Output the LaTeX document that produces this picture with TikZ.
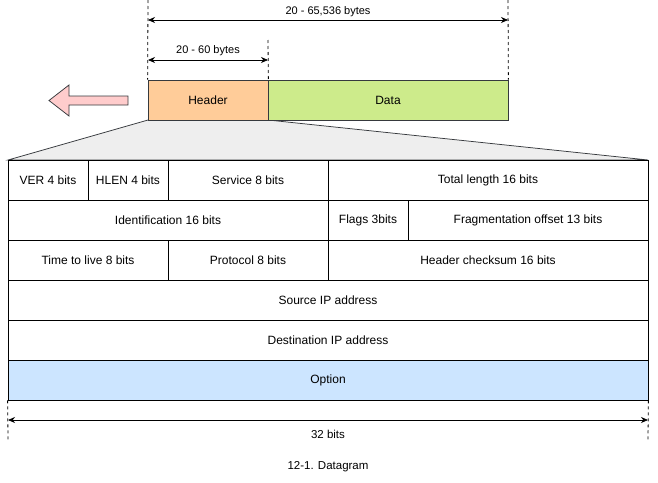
\documentclass[tikz,border=0pt]{standalone}
\usepackage{fontspec}
\setmainfont{Liberation Sans}
\usetikzlibrary{arrows.meta}
\definecolor{linec}{HTML}{36393D}
\definecolor{hdrfill}{HTML}{FFCC99}
\definecolor{datafill}{HTML}{CDEB8B}
\definecolor{pinkfill}{HTML}{FFCCCC}
\definecolor{trapfill}{HTML}{EEEEEE}
\definecolor{optfill}{HTML}{CCE5FF}
\tikzset{
  cell/.style={draw=black, line width=0.75pt, minimum height=40pt, inner sep=0pt, font=\fontsize{12}{14}\selectfont},
  lbl/.style={inner sep=0pt, font=\fontsize{11}{13}\selectfont},
  lbltwelve/.style={inner sep=0pt, font=\fontsize{11.5}{14}\selectfont},
  dim/.style={line width=0.75pt, {Stealth[length=7pt,width=6pt]}-{Stealth[length=7pt,width=6pt]}},
  guide/.style={dash pattern=on 3pt off 3pt, line width=0.8pt},
}
\begin{document}
\begin{tikzpicture}[x=1pt,y=-1pt]
\useasboundingbox (0,0) rectangle (658,482);
% trapezoid
\path[fill=trapfill, draw=linec, line width=0.75pt] (148,120) -- (268,120) -- (648,160) -- (8,160) -- cycle;
% header / data
\node[cell, draw=linec, fill=hdrfill, minimum width=120pt] (hdr) at (208,100) {Header};
\node[cell, draw=linec, fill=datafill, minimum width=240pt] (data) at (388,100) {Data};
% guides
\coordinate (g1) at (148,0);
\coordinate (g2) at (268,40);
\coordinate (g3) at (508,0);
\draw[guide] (g1) -- (hdr.north west);
\draw[guide] (g2) -- (hdr.north east);
\draw[guide] (g3) -- (data.north east);
\coordinate (a1l) at (148,20);
\coordinate (a1r) at (508,20);
\coordinate (a2l) at (148,60);
\coordinate (a2r) at (268,60);
\draw[dim] (a1l) -- (a1r);
\draw[dim] (a2l) -- (a2r);
\node[lbl] (t1) at (328,12) {20 - 65,536 bytes};
\node[lbl] (t2) at (208,51) {20 - 60 bytes};
% pink arrow
\path[fill=pinkfill, draw=linec, line width=0.75pt] (128,96) -- (69,96) -- (69,85) -- (49,100.5) -- (69,116) -- (69,105) -- (128,105) -- cycle;
% table
\node[cell, minimum width=80pt] (ver) at (48,180) {VER 4 bits};
\node[cell, minimum width=80pt] (hlen) at (128,180) {HLEN 4 bits};
\node[cell, minimum width=160pt] (svc) at (248,180) {Service 8 bits};
\node[cell, minimum width=320pt] (tlen) at (488,180) {Total length 16 bits};
\node[cell, minimum width=320pt] (ident) at (168,220) {Identification 16 bits};
\node[cell, minimum width=80pt] (flags) at (368,220) {Flags 3bits};
\node[cell, minimum width=240pt] (frag) at (528,220) {Fragmentation offset 13 bits};
\node[cell, minimum width=160pt] (ttl) at (88,260) {Time to live 8 bits};
\node[cell, minimum width=160pt] (proto) at (248,260) {Protocol 8 bits};
\node[cell, minimum width=320pt] (chk) at (488,260) {Header checksum 16 bits};
\node[cell, minimum width=640pt] (src) at (328,300) {Source IP address};
\node[cell, minimum width=640pt] (dst) at (328,340) {Destination IP address};
\node[cell, fill=optfill, minimum width=640pt] (opt) at (328,380) {Option};
% bottom dimension
\coordinate (b1) at (8,440);
\coordinate (b2) at (648,440);
\draw[guide] (opt.south west) -- (b1);
\draw[guide] (opt.south east) -- (b2);
\coordinate (d1) at (8,420);
\coordinate (d2) at (648,420);
\draw[dim] (d1) -- (d2);
\node[lbltwelve] (t3) at (328,434) {32 bits};
\node[lbltwelve] (cap) at (328,467) {12-1. Datagram};
\end{tikzpicture}
\end{document}
